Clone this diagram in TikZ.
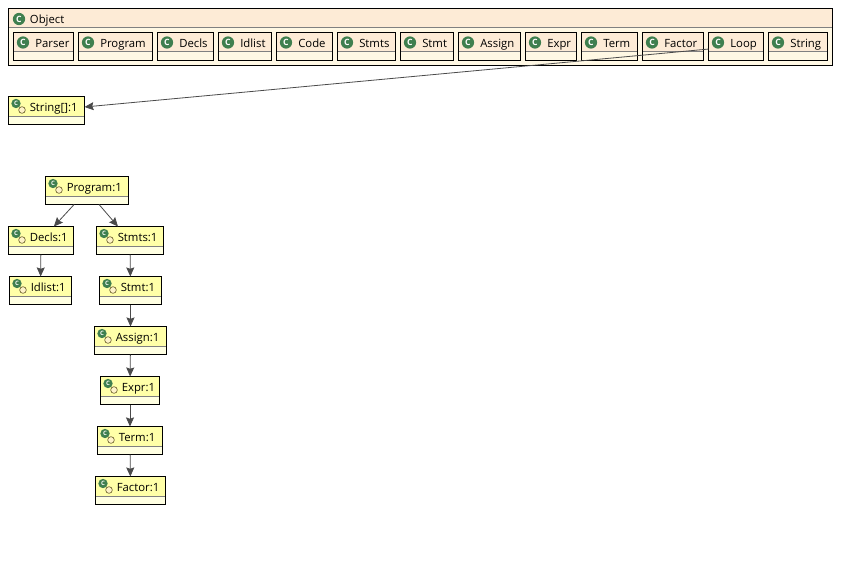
\documentclass[tikz,border=0pt]{standalone}
\usepackage{fontspec}
\setmainfont{Open Sans}
\usetikzlibrary{arrows.meta}
\definecolor{classhead}{HTML}{FDEBD6}
\definecolor{classbody}{HTML}{FFF8E4}
\definecolor{insthead}{HTML}{FFFFA8}
\definecolor{instbody}{HTML}{FFFFE2}
\definecolor{icongreen}{HTML}{3F7F4F}
\definecolor{iconring}{HTML}{FFF3C8}
\definecolor{ringline}{HTML}{6F6330}
\definecolor{linegray}{HTML}{4A4A4A}

\tikzset{
  box/.style n args={3}{shape=rectangle, draw=black, line width=.75pt, inner sep=0, outer sep=0,
    minimum height=21pt, fill=#3,
    path picture={
      \fill [#2] (path picture bounding box.north west) rectangle
        ([yshift=-#1]path picture bounding box.north east);
      \draw [draw=gray, line width=.75pt] ([yshift=-#1]path picture bounding box.north west) --
        ([yshift=-#1]path picture bounding box.north east);
    }},
  classbox/.style={box={14.25pt}{classhead}{classbody}},
  instbox/.style={box={15pt}{insthead}{instbody}},
  label/.style={anchor=base west, inner sep=0, font=\fontsize{8.5pt}{10pt}\selectfont, text=black},
  bigicon/.style={shape=circle, fill=icongreen, text=white, inner sep=0, minimum size=9.2pt,
    font=\fontsize{6.5pt}{7pt}\selectfont\bfseries},
  smallicon/.style={shape=circle, fill=icongreen, text=white, inner sep=0, minimum size=7pt,
    font=\fontsize{4.5pt}{5pt}\selectfont\bfseries},
  ring/.style={shape=circle, draw=ringline, fill=iconring, line width=.5pt, inner sep=0, minimum size=5pt},
  conn/.style={draw=linegray, line width=.6pt, -{Stealth[length=6.8pt,width=6pt,inset=1pt]}}
}

\begin{document}
\begin{tikzpicture}[x=.75pt, y=-.75pt]
    \useasboundingbox (0, 0) rectangle (841, 564);
    % outer class
    \node (object) [classbox, minimum width=618pt, minimum height=42.75pt] at (420.5, 37) {};
    \node (objecticon) [bigicon] at (19, 19) {C};
    \node (objecttext) [label] at (29.7, 23.3) {Object};
    % nested classes
    \foreach \name/\x/\w/\txt in {parser/13.5/60/Parser, program/78.5/74/Program, decls/157.5/56/Decls,
        idlist/218.5/53/Idlist, code/276.5/56/Code, stmts/337.5/58/Stmts, stmtc/400.5/53/Stmt,
        assign/458.5/62/Assign, expr/525.5/51/Expr, term/581.5/56/Term, factor/642.5/61/Factor,
        loop/708.5/55/Loop, string/768.5/59/String} {
      \node (\name) [classbox, minimum width=\w*.75pt] at (\x+\w/2, 46.5) {};
      \node (\name icon) [bigicon] at (\x+9.5, 42.5) {C};
      \node (\name text) [label] at (\x+21.5, 47.3) {\txt};
    }
    % instances
    \foreach \name/\x/\w/\y/\txt in {stringarr/8.5/76/96.5/{String[]:1}, programi/45.5/83/176.5/{Program:1},
        declsi/8.5/65/226.5/{Decls:1}, stmtsi/96.5/67/226.5/{Stmts:1}, idlisti/9.5/62/276.5/{Idlist:1},
        stmti/99.5/62/276.5/{Stmt:1}, assigni/94.5/72/326.5/{Assign:1}, expri/100.5/59/376.5/{Expr:1},
        termi/97.5/65/426.5/{Term:1}, factori/95.5/70/476.5/{Factor:1}} {
      \node (\name) [instbox, minimum width=\w*.75pt] at (\x+\w/2, \y+14) {};
      \node (\name icon) [smallicon] at (\x+7.5, \y+7) {C};
      \node (\name ring) [ring] at (\x+13.5, \y+13.5) {};
      \node (\name text) [label] at (\x+21, \y+15) {\txt};
    }
    \draw [conn] (loop) -- (stringarr);
    \draw [conn] (programi) -- (declsi);
    \draw [conn] (programi) -- (stmtsi);
    \draw [conn] (declsi) -- (idlisti);
    \draw [conn] (stmtsi) -- (stmti);
    \draw [conn] (stmti) -- (assigni);
    \draw [conn] (assigni) -- (expri);
    \draw [conn] (expri) -- (termi);
    \draw [conn] (termi) -- (factori);
\end{tikzpicture}
\end{document}
